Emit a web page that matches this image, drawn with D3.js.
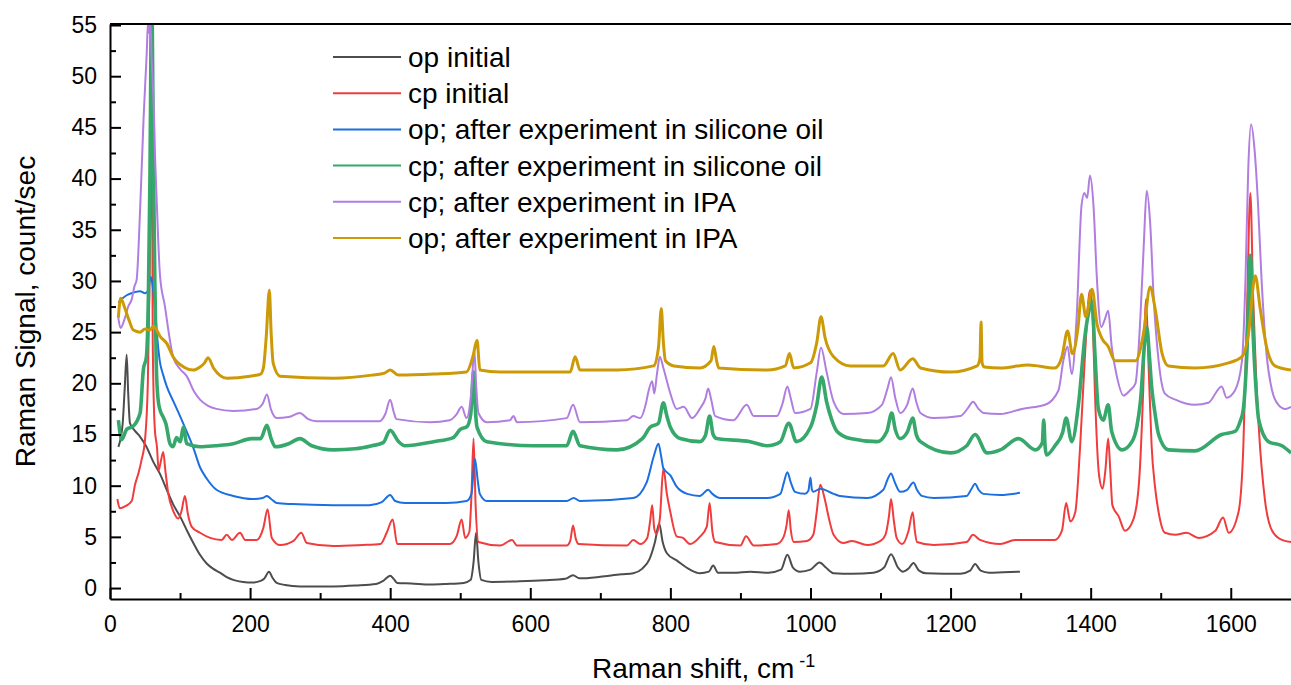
<!DOCTYPE html>
<html>
<head>
<meta charset="utf-8">
<script src="https://cdn.jsdelivr.net/npm/d3@7"></script>
<style>
  body { margin: 0; background: #fff; }
  svg  { display: block; font-family: "Liberation Sans", Arial, sans-serif; }
</style>
</head>
<body>
<svg id="chart" width="1291" height="685"></svg>
<script>
// ── Data (Raman shift cm-1, count/sec) ───────────────────────────────
const opInitial = [
  [12,13.8],[18,16],[21,19.5],[23.8,22.8],[26,19],[28.5,16.1],[35,15.4],[42.8,14.8],[52,13.8],[62,12.3],
  [71,11.2],[81,9.6],[90,8.2],[100,7.0],[110,5.6],[119,4.4],[128,3.3],[138,2.4],[147,1.9],[157,1.5],
  [166,1.1],[176,0.8],[190,0.6],[204,0.55],[215,0.7],[220,0.9],[227,1.6],[232,1.0],[238,0.5],[250,0.3],
  [271,0.16],[300,0.15],[319,0.16],[350,0.25],[380,0.4],[390,0.7],[400,1.2],[405,0.9],[410,0.5],[430,0.45],
  [457,0.35],[480,0.4],[505,0.5],[515,0.8],[519,2.5],[522.6,5.4],[526,2.5],[530,0.8],[545,0.6],[580,0.65],
  [620,0.75],[650,0.9],[661,1.25],[670,0.95],[700,1.1],[730,1.35],[747,1.45],[760,1.9],[770,2.8],[778,4.5],
  [784,6.3],[789,4.5],[795,3.4],[809,2.7],[828,1.8],[842,1.45],[855,1.6],[861,2.2],[868,1.5],[890,1.5],
  [914,1.6],[940,1.5],[958,1.8],[967,3.25],[975,2.0],[985,1.6],[1000,1.8],[1013,2.5],[1022,2.0],[1033,1.45],
  [1060,1.4],[1090,1.5],[1105,2.0],[1115,3.3],[1125,2.0],[1132,1.6],[1140,1.9],[1147,2.45],[1155,1.7],[1165,1.45],
  [1214,1.4],[1228,1.7],[1235,2.35],[1243,1.7],[1255,1.5],[1275,1.55],[1299,1.6]
];

const cpInitial = [
  [10.5,8.7],[14,7.8],[22,8.0],[31,8.5],[35.7,10.1],[41,11.3],[45,12.5],[50,14.5],[54,20],[57,32],
  [59.5,52],[61,24],[64,15.5],[67,13.8],[69.5,11.5],[72,12.2],[76,13.3],[79,11.5],[83,9.3],[90.5,7.5],
  [97.6,6.8],[102,7.5],[107,9.0],[111,7.3],[116.5,6.0],[128.5,5.4],[143,4.9],[159.5,4.7],[166.6,5.2],[174,4.7],
  [185.6,5.4],[193,4.7],[209.5,4.7],[219,5.9],[225,7.7],[231,4.9],[243,4.2],[262,4.6],[273,5.4],[281,4.4],
  [319,4.1],[360,4.2],[386,4.3],[395,5.4],[403.6,6.7],[410,4.3],[440,4.3],[485,4.3],[495,5.1],[502,6.7],
  [507,4.9],[513,5.5],[516,9],[519,14.6],[522,8],[526,4.5],[557,4.15],[574,4.7],[581,4.15],[652,4.15],
  [657,4.6],[661,6.1],[665,4.8],[669,4.3],[738,4.15],[747,4.7],[757,4.3],[767,4.9],[771,6.5],[774,8.1],
  [777,5.8],[780,5.3],[785,6.8],[790,11.7],[795,9.2],[800,7.4],[809,5.05],[818,4.9],[828,4.3],[842,5.0],
  [852,6.0],[856,8.3],[860,5.5],[864,4.5],[900,4.15],[908,5.05],[919,4.15],[952,4.3],[961,4.9],[966,6.2],
  [969,7.6],[972,5.6],[976,4.5],[995,4.6],[1004,5.2],[1009,7.5],[1014,10.1],[1021,8.5],[1027,6.6],[1033,5.2],
  [1047,4.4],[1059,4.6],[1081,4.2],[1100,4.6],[1107,5.2],[1112,7.0],[1115,8.7],[1119,6.6],[1123,4.9],[1131,4.3],
  [1140,5.6],[1146,7.4],[1149,5.6],[1152,4.5],[1176,4.2],[1223,4.5],[1232,5.2],[1242,4.7],[1271,4.3],[1292,4.7],
  [1349,4.7],[1359,5.6],[1365,8.3],[1371,6.5],[1378,7.4],[1385,13.9],[1392,22.9],[1399,29.1],[1403,26],[1406,19.3],
  [1412,11.0],[1417,9.7],[1421,11.5],[1425,14.6],[1428,11.5],[1431,8.1],[1440,7.0],[1449,5.6],[1461,6.7],[1469,10.3],
  [1475,19.3],[1479,28.2],[1483,21.1],[1487,13.9],[1492,9.8],[1497,7.4],[1506,5.4],[1521,5.2],[1537,5.4],[1554,4.9],
  [1578,5.6],[1589,6.9],[1597,5.4],[1611,7.4],[1618,13.9],[1623,26.5],[1628,38.6],[1632,28.3],[1636,21],[1640,15.7],
  [1649,8.5],[1659,5.6],[1673,4.7],[1686,4.5]
];

const opSilicone = [
  [12,27.9],[18,28.3],[23.8,28.6],[35,28.9],[42.8,29.0],[50,28.8],[54,29.0],[58,30.4],[61,29.5],[64,27.5],
  [67,24.8],[71,22.2],[76,20.8],[81,19.7],[90,18.3],[100,16.8],[110,15.2],[119,13.7],[128.5,11.8],[138,10.7],
  [152,9.6],[176,9.0],[204,8.7],[218,8.8],[224,9.0],[230,8.7],[238,8.3],[260,8.2],[319,8.1],[370,8.1],
  [388,8.4],[400,9.1],[407,8.5],[421,8.3],[480,8.3],[509,8.5],[516,9.2],[521,12.6],[525,10.5],[528,9.2],
  [538,8.5],[652,8.5],[662,8.8],[671,8.5],[747,8.8],[766,10.3],[776,12.8],[783,14.1],[787,12.8],[790,11.7],
  [800,11.0],[809,9.9],[824,9.2],[842,9.0],[854,9.6],[860,9.2],[871,8.8],[938,8.8],[957,9.2],[962,10.3],
  [967,11.3],[972,10.3],[978,9.4],[992,9.2],[997,9.5],[1000,10.8],[1002,9.6],[1004,9.4],[1014,9.7],[1033,9.2],
  [1042,9.0],[1081,8.8],[1104,9.6],[1110,10.6],[1115,11.2],[1120,10.4],[1128,9.4],[1138,9.6],[1147,10.3],[1152,9.6],
  [1159,9.0],[1176,8.8],[1223,9.0],[1230,9.7],[1235,10.2],[1240,9.6],[1247,9.2],[1271,9.1],[1299,9.3]
];

const cpSilicone = [
  [12,16.4],[16.7,14.5],[23.8,15.5],[33,15.8],[43,17.1],[47.6,21.3],[52,22.6],[54.8,28.5],[57,40],[59.5,58],
  [62,42],[64,30],[66,22],[68.5,18.5],[71.4,17.4],[76,16.7],[80,16.0],[85.6,14.1],[90,13.8],[95,14.7],
  [100,14.3],[105,15.7],[109.5,14.1],[128.5,13.8],[150,13.9],[176,14.1],[202,14.6],[215,14.6],[224,15.9],[230,14.6],
  [236,13.8],[255,14.1],[271,14.6],[288,13.9],[319,13.5],[350,13.6],[374,13.9],[390,14.2],[400,15.4],[412,14.3],
  [421,13.9],[462,14.3],[490,14.7],[500,15.5],[510,15.8],[515,17],[519,21.1],[522,17],[524,15.7],[538,14.3],
  [605,13.9],[652,13.9],[661,15.3],[671,13.9],[724,13.5],[760,14.6],[771,15.7],[783,16.1],[790,18.1],[795,16.8],
  [800,15.7],[814,14.6],[842,14.3],[850,14.9],[856,16.8],[861,15.0],[866,14.6],[914,14.3],[938,13.9],[957,14.3],
  [969,16.1],[980,14.3],[1000,15.7],[1009,17.9],[1016,20.6],[1023,18.2],[1030,16.5],[1038,15.3],[1057,14.6],[1095,14.3],
  [1109,15.3],[1116,17.1],[1121,15.5],[1128,14.6],[1138,15.2],[1146,16.6],[1151,15.0],[1157,14.3],[1200,13.2],[1223,13.9],
  [1235,15.0],[1252,13.2],[1271,13.5],[1297,14.6],[1321,13.5],[1331,14.2],[1333,16.4],[1335,13.8],[1337,13.0],[1349,13.9],
  [1360,15.2],[1365,16.6],[1373,14.3],[1383,18.2],[1392,24.7],[1398,27.2],[1402,28.0],[1406,23],[1411,17.5],[1418,16.4],
  [1425,17.9],[1430,15.3],[1445,13.5],[1459,14.3],[1466,15.8],[1471,18.2],[1478,24.7],[1480,25.5],[1484,22.5],[1487,19.7],
  [1492,17],[1497,15.0],[1511,13.5],[1549,13.4],[1587,15.0],[1606,15.3],[1613,16.2],[1618,17.5],[1623,22.9],[1628,32.5],
  [1632,24.7],[1636,19.5],[1640,16.4],[1654,14.3],[1673,13.9],[1686,13.2]
];

const cpIPA = [
  [11.9,26.4],[15,25.4],[21.4,26.4],[26,27.5],[31,28.2],[35,29.5],[38,30.1],[43,37],[48,46],[52.4,52.2],
  [54.5,55.5],[56,54.2],[57.5,55.5],[59.5,51.6],[63,45.8],[64,43],[66.6,38],[71.4,30.5],[78.5,27.5],[83.3,25.2],
  [90,22.6],[100,21.4],[109.5,20.7],[120,19.2],[128.5,18.4],[140,17.8],[152,17.5],[176,17.3],[209,17.5],[218,18.0],
  [224,18.9],[230,17.4],[238,16.6],[255,16.7],[271,17.1],[283,16.5],[295,16.3],[385,16.3],[393,17.0],[400,18.4],
  [405,17.2],[409,16.5],[457,16.2],[485,16.4],[495,17.0],[502,17.7],[509,16.6],[514,18],[516,19.3],[520,23.3],
  [523,19.5],[526,17.1],[538,16.2],[571,16.4],[576,16.8],[581,16.2],[652,16.6],[661,17.9],[671,16.2],[738,16.4],
  [747,16.8],[757,16.6],[765,18],[769,19.3],[774,20.2],[777,19.0],[781,21],[785,22.6],[790,21.5],[800,19.0],
  [809,17.5],[819,17.7],[831,16.6],[842,17.5],[850,18.5],[854,19.5],[858,18.5],[864,16.8],[890,16.4],[909,17.9],
  [919,16.8],[952,16.8],[960,18],[967,19.7],[972,18.5],[978,17.1],[1000,17.5],[1009,21.1],[1015,23.5],[1023,21.1],
  [1033,18.2],[1047,17.0],[1081,17.1],[1102,17.9],[1110,19.5],[1115,20.6],[1121,18.6],[1128,17.1],[1138,17.9],[1146,19.5],
  [1151,18.2],[1157,17.1],[1176,16.6],[1214,16.8],[1225,17.6],[1232,18.2],[1240,17.5],[1247,17.1],[1271,17.0],[1302,17.5],
  [1335,17.9],[1354,19.3],[1361,22.2],[1367,23.6],[1373,20.9],[1380,26.5],[1387,37.4],[1391,38.6],[1395,38.1],[1399,40.3],
  [1404,37.4],[1409,30.1],[1415,25.5],[1420,26.2],[1425,27.1],[1430,23.6],[1437,20.8],[1447,18.8],[1456,19.3],[1464,20.0],
  [1471,26.5],[1476,33.8],[1480,38.8],[1485,35.6],[1490,28.3],[1497,22.2],[1506,19.0],[1521,18.4],[1549,17.9],[1568,18.1],
  [1587,19.7],[1594,18.6],[1606,19.3],[1616,22.2],[1621,30.1],[1625,41.0],[1629,45.3],[1634,42.8],[1639,37.4],[1644,30.1],
  [1651,22.9],[1659,19.3],[1668,17.9],[1678,17.5],[1686,17.7]
];

const opIPA = [
  [11.9,26.4],[15.2,28.3],[21.4,27.3],[27,26.2],[33.3,25.2],[42.8,25.0],[50,25.3],[57,25.2],[62,25.6],[66.6,25.2],
  [71.4,24.6],[81,23.9],[90,22.6],[105,21.6],[119,21.3],[128.5,21.6],[135,22.0],[140,22.5],[147.7,21.5],[167,20.5],
  [200,20.7],[215,20.9],[219,21.5],[223,24.5],[227.5,29.1],[230,25],[233,21.95],[243,20.7],[319,20.5],[374,20.8],
  [392,21.0],[400,21.3],[412,20.8],[462,20.9],[509,21.1],[518,22.6],[524,24.2],[528,21.3],[557,21.1],[605,21.1],
  [657,21.1],[664,22.6],[671,21.3],[724,21.3],[776,21.7],[783,23.5],[787,27.3],[790,24],[793,22.2],[805,21.7],
  [842,21.5],[858,22.2],[862,23.6],[866,22.2],[869,21.5],[938,21.3],[964,21.7],[970,22.9],[976,21.5],[1000,22.0],
  [1009,24.0],[1015,26.5],[1021,24.4],[1033,22.6],[1057,21.7],[1104,21.7],[1118,22.9],[1128,21.3],[1146,22.4],[1157,21.5],
  [1200,21.1],[1238,21.7],[1242,22.5],[1243.5,26.0],[1245,22.0],[1248,21.6],[1271,21.5],[1311,21.8],[1349,21.5],[1359,22.6],
  [1367,25.1],[1374,22.9],[1382,25.5],[1387,28.7],[1393,26.5],[1402,29.2],[1409,25.8],[1416,24.4],[1425,23.6],[1435,22.2],
  [1464,22.2],[1475,24.7],[1485,29.4],[1492,27.3],[1502,22.9],[1511,21.7],[1549,21.5],[1597,22.0],[1616,22.6],[1625,24.7],
  [1635,30.5],[1642,27.3],[1651,23.6],[1663,21.7],[1686,21.3]
];

const seriesNames = [
  "op initial",
  "cp initial",
  "op; after experiment in silicone oil",
  "cp; after experiment in silicone oil",
  "cp; after experiment in IPA",
  "op; after experiment in IPA"
];
const seriesData   = [opInitial, cpInitial, opSilicone, cpSilicone, cpIPA, opIPA];
const seriesColors = ["#4d4d4d", "#f03c3c", "#1b6fe0", "#37a86b", "#b07ee0", "#cc9a06"];
// noisy spectra are drawn a bit heavier to stand in for their noise band
const seriesWidths = [2, 2, 2, 3.6, 2, 3];

const xTicks      = [0, 200, 400, 600, 800, 1000, 1200, 1400, 1600];
const xMinorTicks = [100, 300, 500, 700, 900, 1100, 1300, 1500];
const yTicks      = [0, 5, 10, 15, 20, 25, 30, 35, 40, 45, 50, 55];
const yMinorTicks = [2.5, 7.5, 12.5, 17.5, 22.5, 27.5, 32.5, 37.5, 42.5, 47.5, 52.5];

// ── Layout ───────────────────────────────────────────────────────
const plot = { left: 110, right: 1291, top: 24, bottom: 599 };

const svg = d3.select("#chart");

const x = d3.scaleLinear().domain([0, 1686]).range([plot.left, plot.right]);
const y = d3.scaleLinear().domain([-1.07, 55.1]).range([plot.bottom, plot.top]);

svg.append("defs").append("clipPath").attr("id", "clip")
  .append("rect")
  .attr("x", plot.left).attr("y", plot.top)
  .attr("width", plot.right - plot.left).attr("height", plot.bottom - plot.top);

// ── Spectra ──────────────────────────────────────────────────────
const line = d3.line()
  .x(d => x(d[0]))
  .y(d => y(d[1]))
  .curve(d3.curveMonotoneX);

const gLines = svg.append("g").attr("clip-path", "url(#clip)");
seriesData.forEach((s, i) => {
  gLines.append("path")
    .datum(s)
    .attr("fill", "none")
    .attr("stroke", seriesColors[i])
    .attr("stroke-width", seriesWidths[i])
    .attr("stroke-linejoin", "round")
    .attr("d", line);
});

// ── Axes ─────────────────────────────────────────────────────────
const axisFont = 23;
const fmt = d3.format("d");

const gx = svg.append("g").attr("transform", `translate(0,${plot.bottom})`)
  .call(d3.axisBottom(x).tickValues(xTicks).tickFormat(fmt)
    .tickSizeInner(-11).tickSizeOuter(0).tickPadding(17));
gx.selectAll("text").attr("font-size", axisFont).attr("fill", "#000")
  .attr("font-family", "Liberation Sans, Arial, sans-serif");

svg.append("g").attr("transform", `translate(0,${plot.bottom})`)
  .call(d3.axisBottom(x).tickValues(xMinorTicks).tickSizeInner(-6).tickSizeOuter(0).tickFormat(""))
  .call(g => g.select(".domain").remove());

const gy = svg.append("g").attr("transform", `translate(${plot.left},0)`)
  .call(d3.axisLeft(y).tickValues(yTicks).tickFormat(fmt)
    .tickSizeInner(-11).tickSizeOuter(0).tickPadding(13));
gy.selectAll("text").attr("font-size", axisFont).attr("fill", "#000")
  .attr("font-family", "Liberation Sans, Arial, sans-serif");

svg.append("g").attr("transform", `translate(${plot.left},0)`)
  .call(d3.axisLeft(y).tickValues(yMinorTicks).tickSizeInner(-6).tickSizeOuter(0).tickFormat(""))
  .call(g => g.select(".domain").remove());

svg.selectAll(".domain, .tick line").attr("stroke", "#000").attr("stroke-width", 2);

// frame: top edge
svg.append("line")
  .attr("x1", plot.left).attr("x2", plot.right)
  .attr("y1", plot.top).attr("y2", plot.top)
  .attr("stroke", "#000").attr("stroke-width", 2);

// ── Axis titles ──────────────────────────────────────────────────
const xTitle = svg.append("text")
  .attr("x", 592).attr("y", 678)
  .attr("font-size", 28).attr("fill", "#000");
xTitle.append("tspan").text("Raman shift, cm");
xTitle.append("tspan").attr("dx", 5).attr("dy", -11).attr("font-size", 18).text("-1");

svg.append("text")
  .attr("transform", `translate(35,${(plot.top + plot.bottom) / 2}) rotate(-90)`)
  .attr("text-anchor", "middle")
  .attr("font-size", 28).attr("fill", "#000")
  .text("Raman Signal, count/sec");

// ── Legend ───────────────────────────────────────────────────────
const legend = svg.append("g");
seriesNames.forEach((name, i) => {
  const yy = 57 + i * 36.2;
  legend.append("line")
    .attr("x1", 333).attr("x2", 401)
    .attr("y1", yy).attr("y2", yy)
    .attr("stroke", seriesColors[i]).attr("stroke-width", 2);
  legend.append("text")
    .attr("x", 408).attr("y", yy).attr("dy", "0.36em")
    .attr("font-size", 28).attr("fill", "#000")
    .text(name);
});
</script>
</body>
</html>
